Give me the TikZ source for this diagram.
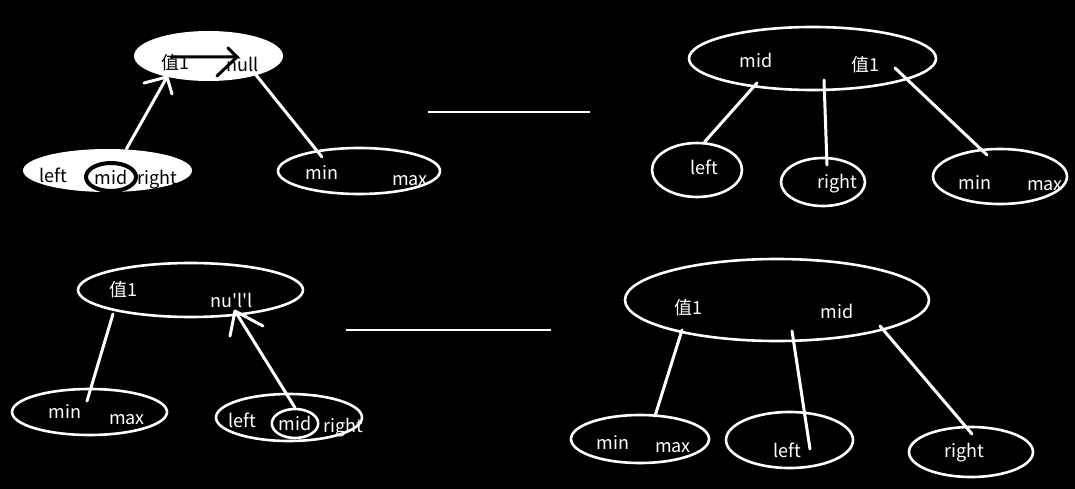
\documentclass[tikz,border=0pt]{standalone}
\usepackage{fontspec}
\newfontfamily\cjk{Noto Sans CJK SC}
\usetikzlibrary{shapes.geometric}

\tikzset{
  link/.style={white,line width=3pt,line cap=round},
  bubble/.style={draw=white,line width=2.6pt,ellipse,inner sep=0pt},
  solid bubble/.style={fill=white,ellipse,inner sep=0pt},
  word/.style={inner sep=0pt,font=\cjk\fontsize{18}{20}\selectfont,text=white},
  dark word/.style={word,text=black}
}

\begin{document}
\begin{tikzpicture}[x=1pt,y=-1pt]
  % Background
  \fill[black] (0,0) rectangle (1075,489);
  \useasboundingbox (0,0) rectangle (1075,489);

  % ---- top left: before the split ----
  \node[solid bubble,minimum width=149pt,minimum height=50pt] (tlRoot) at (208.5,56) {};
  \node[dark word] (tlVal) at (175,63) {值1};
  \node[dark word] (tlNull) at (243,64) {null};
  \node[solid bubble,minimum width=169pt,minimum height=43pt] (tlKid) at (107.5,170.5) {};
  \node[dark word] (tlLeft) at (53,175) {left};
  \node[dark word,draw=black,line width=4pt,ellipse,minimum width=50pt,minimum height=28pt] (tlMid) at (111,177) {mid};
  \node[dark word] (tlRight) at (157,180) {right};
  \node[bubble,minimum width=162pt,minimum height=46pt] (tlMinMax) at (359,171) {};
  \node[word] (tlMin) at (322,173) {min};
  \node[word] (tlMax) at (410,181) {max};

  % black arrow inside the root
  \coordinate (tlA) at (171,57);
  \coordinate (tlB) at (237,57);
  \draw[black,line width=3pt,line cap=round] (tlA) -- (tlB) -- (228,48);
  \draw[black,line width=3pt,line cap=round] (tlB) -- (217,76);

  % mid goes up
  \coordinate (tlUp) at (167,77);
  \draw[link] (tlKid.north) ++(19pt,0) coordinate (tlFoot) (tlFoot) -- (tlUp);
  \draw[link] (tlUp) -- (144,83);
  \draw[link] (tlUp) -- (172,94);
  \coordinate (tlDown) at (256,75);
  \coordinate (tlEnd) at (322,157);
  \draw[link] (tlDown) -- (tlEnd);

  % separator
  \draw[white,line width=2.5pt] (428,112) coordinate (sepA) -- (590,112) coordinate (sepB);

  % ---- top right: after the split ----
  \node[bubble,minimum width=247pt,minimum height=63pt] (trRoot) at (812.5,58.5) {};
  \node[word] (trMid) at (756,60) {mid};
  \node[word] (trVal) at (865,65) {值1};
  \node[bubble,minimum width=90pt,minimum height=54pt] (trLeft) at (697,170) {};
  \node[word] (trLeftT) at (704,167) {left};
  \node[bubble,minimum width=84pt,minimum height=48pt] (trRight) at (823,182) {};
  \node[word] (trRightT) at (837,184) {right};
  \node[bubble,minimum width=134pt,minimum height=55pt] (trMinMax) at (1000,176.5) {};
  \node[word] (trMin) at (975,183) {min};
  \node[word] (trMax) at (1045,186) {max};

  \coordinate (trA) at (757,83);
  \coordinate (trB) at (824,80);
  \coordinate (trC) at (895,68);
  \draw[link] (trA) -- (trLeft.75);
  \draw[link] (trB) -- (827,165) coordinate (trBEnd);
  \draw[link] (trC) -- (987,155) coordinate (trCEnd);

  % ---- bottom left: before the split ----
  \node[bubble,minimum width=225pt,minimum height=54pt] (blRoot) at (190.5,290) {};
  \node[word] (blVal) at (123,290) {值1};
  \node[word] (blNull) at (232,300) {nu'l'l};
  \node[bubble,minimum width=155pt,minimum height=46pt] (blMinMax) at (89.5,412) {};
  \node[word] (blMin) at (65,412) {min};
  \node[word] (blMax) at (127,420) {max};
  \node[bubble,minimum width=146pt,minimum height=47pt] (blKid) at (289,417.5) {};
  \node[word] (blLeft) at (242,420) {left};
  \node[word,draw=white,line width=2.6pt,ellipse,minimum width=44pt,minimum height=29pt] (blMid) at (295,423.5) {mid};
  \node[word] (blRight) at (343,428) {right};

  \coordinate (blA) at (113,314);
  \draw[link] (blA) -- (87,401) coordinate (blAEnd);
  % mid goes up
  \coordinate (blUp) at (235,311);
  \draw[link] (blMid.north) -- (blUp);
  \draw[link] (blUp) -- (230,336);
  \draw[link] (blUp) -- (263,326);

  % separator
  \draw[white,line width=2.5pt] (346,330) coordinate (sepC) -- (551,330) coordinate (sepD);

  % ---- bottom right: after the split ----
  \node[bubble,minimum width=304pt,minimum height=82pt] (brRoot) at (777,300) {};
  \node[word] (brVal) at (688,308) {值1};
  \node[word] (brMid) at (837,311) {mid};
  \node[bubble,minimum width=138pt,minimum height=48pt] (brMinMax) at (640,439) {};
  \node[word] (brMin) at (613,443) {min};
  \node[word] (brMax) at (673,448) {max};
  \node[bubble,minimum width=127pt,minimum height=56pt] (brLeft) at (789.5,440) {};
  \node[word] (brLeftT) at (787,450) {left};
  \node[bubble,minimum width=124pt,minimum height=50pt] (brRight) at (971,452) {};
  \node[word] (brRightT) at (964,453) {right};

  \coordinate (brA) at (682,330);
  \coordinate (brB) at (792,331);
  \coordinate (brC) at (880,326);
  \draw[link] (brA) -- (655,416) coordinate (brAEnd);
  \draw[link] (brB) -- (810,449) coordinate (brBEnd);
  \draw[link] (brC) -- (972,434) coordinate (brCEnd);
\end{tikzpicture}
\end{document}
